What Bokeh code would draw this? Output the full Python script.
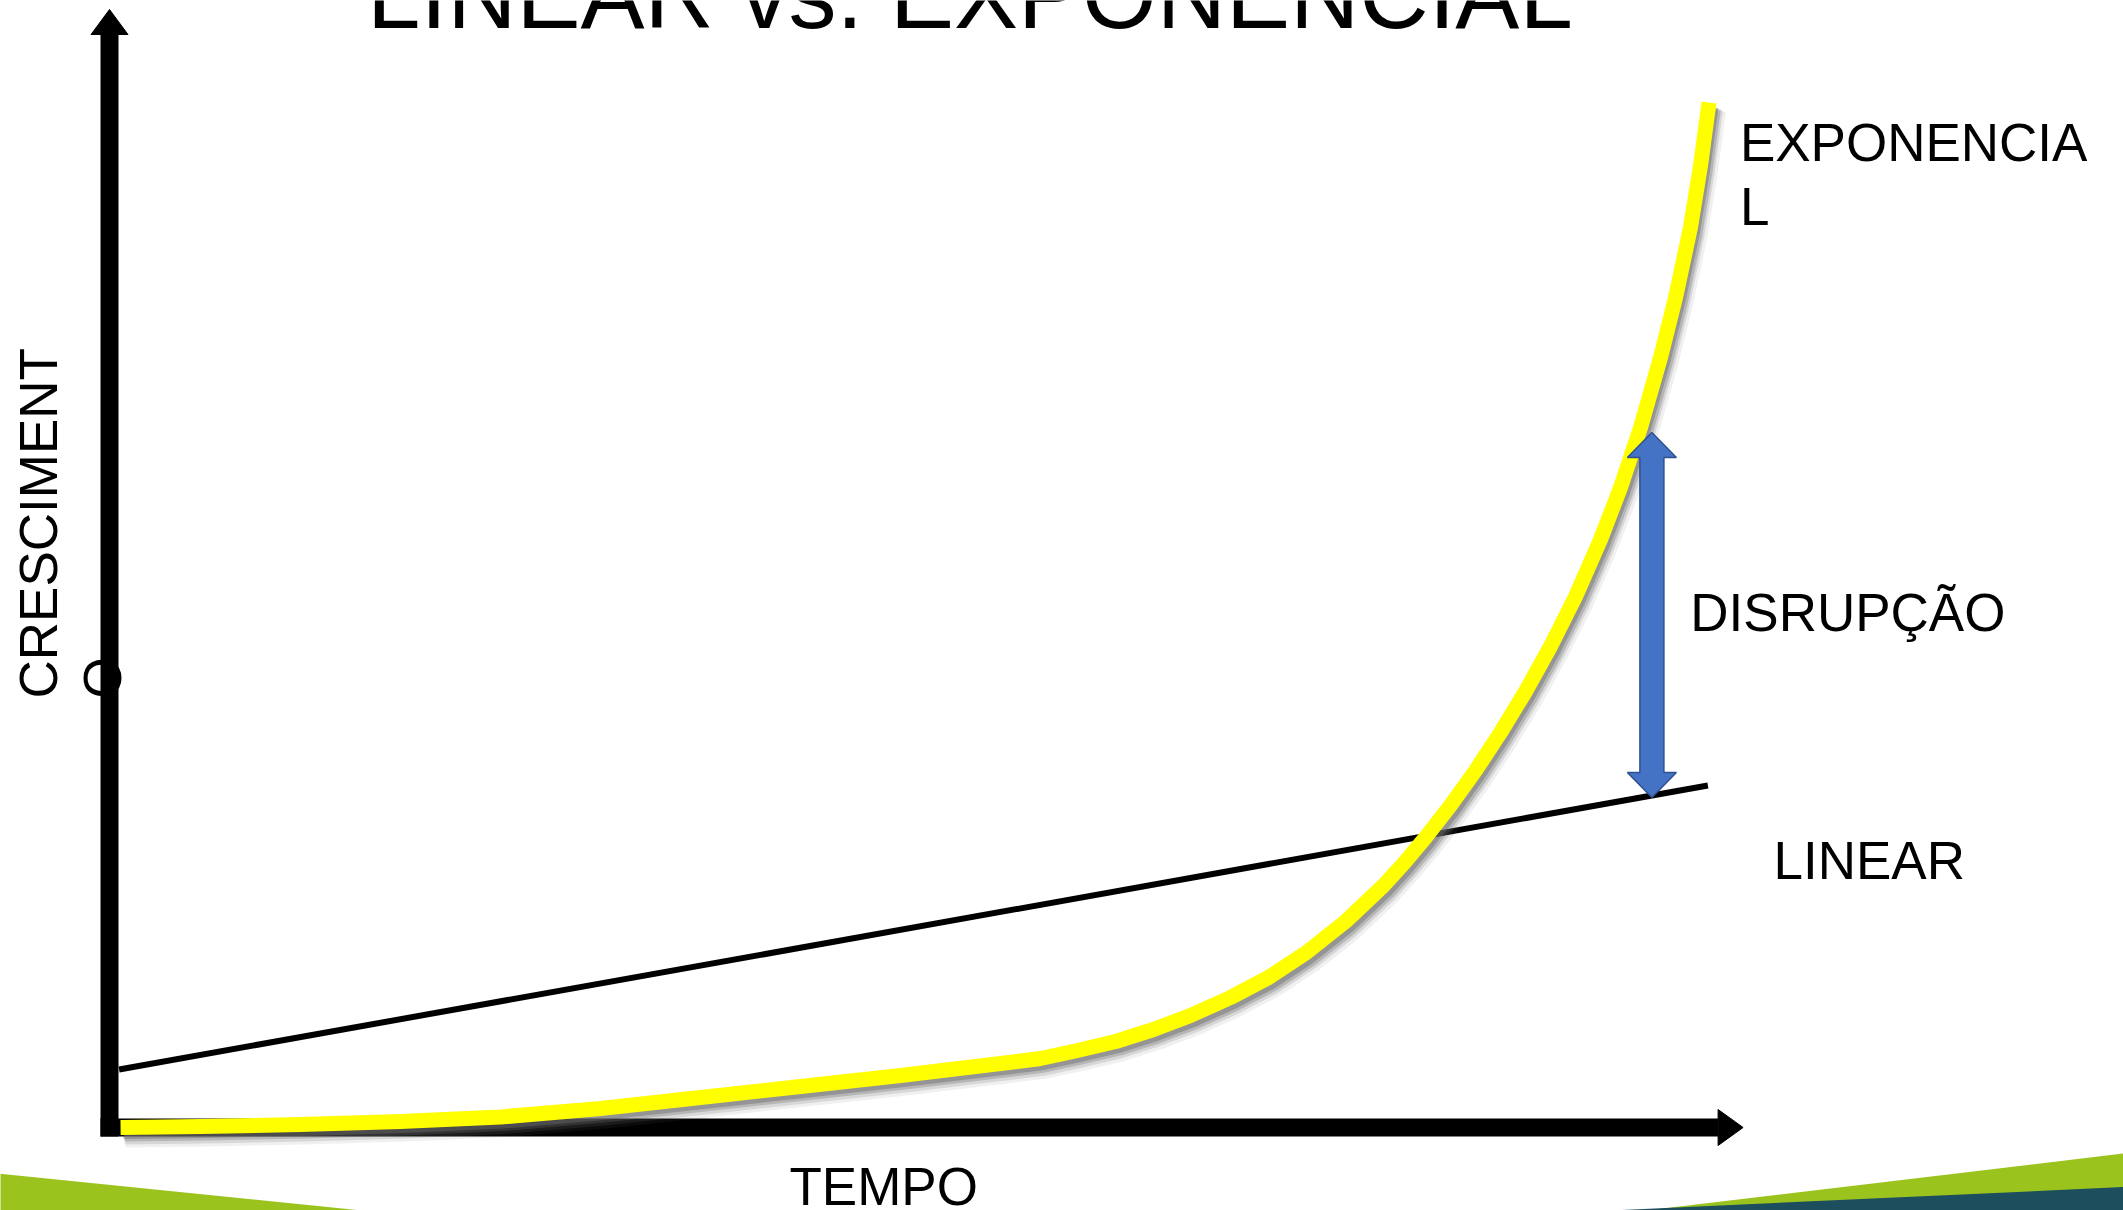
from bokeh.plotting import figure
from bokeh.models import Range1d
from bokeh.core.properties import value
from bokeh.embed import file_html
from bokeh.resources import INLINE
import math

# ---------------- data (time vs. growth, arbitrary units) ----------------
linear_t = [0.06, 9.99]
linear_g = [0.58, 3.42]

expo_t = [0.069, 0.569, 1.194, 1.819, 2.444, 3.069, 3.694, 4.319, 4.944, 5.569,
          5.819, 6.050, 6.288, 6.525, 6.756, 7.006, 7.244, 7.481, 7.725, 7.963,
          8.094, 8.225, 8.381, 8.538, 8.694, 8.850, 9.006, 9.163, 9.319, 9.444,
          9.569, 9.694, 9.788, 9.881, 9.944, 9.997]
expo_g = [0.00, 0.01, 0.03, 0.06, 0.105, 0.19, 0.30, 0.41, 0.52, 0.64,
          0.69, 0.77, 0.86, 0.98, 1.12, 1.30, 1.50, 1.75, 2.06, 2.42,
          2.65, 2.90, 3.22, 3.57, 3.95, 4.36, 4.81, 5.31, 5.88, 6.40,
          7.00, 7.70, 8.30, 9.00, 9.62, 10.25]

gap_t = 9.64          # where the disruption gap is marked
gap_low = 3.30        # linear value
gap_high = 6.95       # exponential value (arrow tip)

axis_t_end = 10.21    # tip of time axis arrow
axis_g_end = 11.18    # tip of growth axis arrow

title = "LINEAR vs. EXPONENCIAL"
label_x = "TEMPO"
label_y = ["CRESCIMENT", "O"]
label_exp = ["EXPONENCIA", "L"]
label_lin = "LINEAR"
label_gap = "DISRUPÇÃO"

# ---------------- figure ----------------
W, H = 2123, 1210
PXX, PXY = 160.0, 100.0          # pixels per data unit
x0 = -109 / PXX
y1 = 1127 / PXY
p = figure(width=W, height=H, output_backend="svg", toolbar_location=None,
           x_range=Range1d(x0, x0 + W / PXX), y_range=Range1d(y1 - H / PXY, y1),
           x_axis_type=None, y_axis_type=None, min_border=0)
p.grid.visible = False
p.outline_line_color = None
p.background_fill_color = "white"
p.border_fill_color = "white"

FONT = value("Liberation Sans")

# ---------------- slide decoration (bottom bands) ----------------
green = "#9BC31E"
teal = "#1C4E5E"
p.patch([-1.0, -1.0, 1.57, 1.70], [-0.41, -1.2, -1.2, -0.85], fill_color=green, line_color=None)
p.patch([9.60, 12.8, 12.8], [-0.83, -0.22, -1.2], fill_color=green, line_color=None)
p.patch([9.25, 12.8, 12.8], [-0.84, -0.58, -1.2], fill_color=teal, line_color=None)

# ---------------- axes drawn as arrows ----------------
aw = 18
hx = 25 / PXX
hy = 25 / PXY
p.line([-9 / PXX, axis_t_end - hx], [0, 0], line_color="black", line_width=aw, line_cap="butt")
p.patch([axis_t_end - hx, axis_t_end, axis_t_end - hx], [18 / PXY, 0, -18 / PXY],
        fill_color="black", line_color="black", line_width=1)
p.line([0, 0], [-9 / PXY, axis_g_end - hy], line_color="black", line_width=aw, line_cap="butt")
p.patch([-18.5 / PXX, 0, 18.5 / PXX], [axis_g_end - hy, axis_g_end, axis_g_end - hy],
        fill_color="black", line_color="black", line_width=1)

# ---------------- linear series ----------------
p.line(linear_t, linear_g, line_color="black", line_width=6, line_cap="butt")

# ---------------- exponential series with soft shadow ----------------
for dx, dy, w, a in [(5, 8, 24, 0.10), (4, 7, 20, 0.18), (4, 6, 16, 0.30), (3, 5, 13, 0.45)]:
    p.line([t + dx / PXX for t in expo_t], [g - dy / PXY for g in expo_g],
           line_color="#6a6a6a", line_alpha=a, line_width=w, line_join="round", line_cap="butt")
p.line(expo_t, expo_g, line_color="#FFFF00", line_width=15, line_join="round", line_cap="butt")

# ---------------- disruption arrow ----------------
sw = 12 / PXX
hw = 24.5 / PXX
hl = 25 / PXY
ax_ = [gap_t, gap_t + hw, gap_t + sw, gap_t + sw, gap_t + hw, gap_t,
       gap_t - hw, gap_t - sw, gap_t - sw, gap_t - hw]
ay_ = [gap_high, gap_high - hl, gap_high - hl, gap_low + hl, gap_low + hl, gap_low,
       gap_low + hl, gap_low + hl, gap_high - hl, gap_high - hl]
p.patch(ax_, ay_, fill_color="#4472C4", line_color="#2F528F", line_width=1.5)

# ---------------- texts ----------------
fs = 53
dfy = 0.4 * fs / PXY     # baseline compensation (horizontal texts)
dfx = 0.4 * fs / PXX     # baseline compensation (rotated texts)
tf = 96
common = dict(text_font=FONT, text_color="black", text_baseline="alphabetic", text_align="left")
p.text([1.61], [10.95 + 0.4 * tf / PXY], text=[title], text_font_size=f"{tf}px", **common)
p.text([10.19, 10.19], [9.64 + dfy, 9.00 + dfy], text=label_exp, text_font_size=f"{fs}px", **common)
p.text([9.88], [4.94 + dfy], text=[label_gap], text_font_size=f"{fs}px", **common)
p.text([10.40], [2.46 + dfy], text=[label_lin], text_font_size=f"{fs}px", **common)
p.text([4.25], [-0.80 + dfy], text=[label_x], text_font_size=f"{fs}px", **common)
p.text([-0.3125 - dfx, 0.0875 - dfx], [4.29, 4.29], text=label_y, text_font_size=f"{fs}px",
       angle=math.pi / 2, **common)

open("out.html", "w").write(file_html(p, INLINE))
